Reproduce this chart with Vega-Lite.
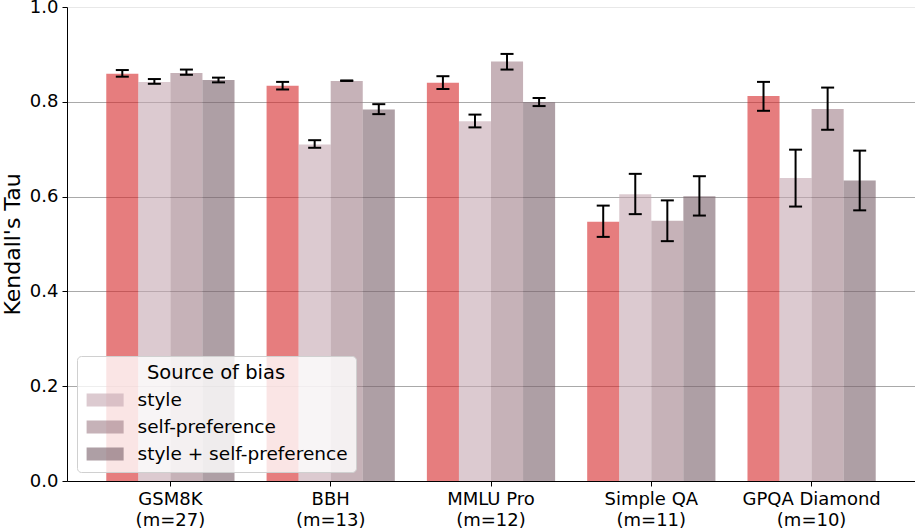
{
  "$schema": "https://vega.github.io/schema/vega-lite/v6.json",
  "width": 848,
  "height": 474,
  "autosize": {"type": "none"},
  "padding": {"left": 67, "top": 7, "right": 0, "bottom": 48},
  "background": "white",
  "config": {
    "font": "DejaVu Sans",
    "view": {"stroke": null},
    "axis": {"labelColor": "black", "titleColor": "black", "domainColor": "black", "tickColor": "black", "labelFontSize": 18, "tickSize": 5}
  },
  "data": {
    "values": [
      {"benchmark": "GSM8K|(m=27)", "source": "baseline", "tau": 0.859, "lo": 0.853, "hi": 0.867},
      {"benchmark": "GSM8K|(m=27)", "source": "style", "tau": 0.842, "lo": 0.838, "hi": 0.848},
      {"benchmark": "GSM8K|(m=27)", "source": "self-preference", "tau": 0.861, "lo": 0.857, "hi": 0.868},
      {"benchmark": "GSM8K|(m=27)", "source": "style + self-preference", "tau": 0.846, "lo": 0.841, "hi": 0.851},
      {"benchmark": "BBH|(m=13)", "source": "baseline", "tau": 0.834, "lo": 0.826, "hi": 0.842},
      {"benchmark": "BBH|(m=13)", "source": "style", "tau": 0.710, "lo": 0.703, "hi": 0.719},
      {"benchmark": "BBH|(m=13)", "source": "self-preference", "tau": 0.844, "lo": 0.844, "hi": 0.845},
      {"benchmark": "BBH|(m=13)", "source": "style + self-preference", "tau": 0.784, "lo": 0.774, "hi": 0.795},
      {"benchmark": "MMLU Pro|(m=12)", "source": "baseline", "tau": 0.840, "lo": 0.827, "hi": 0.854},
      {"benchmark": "MMLU Pro|(m=12)", "source": "style", "tau": 0.759, "lo": 0.746, "hi": 0.773},
      {"benchmark": "MMLU Pro|(m=12)", "source": "self-preference", "tau": 0.885, "lo": 0.868, "hi": 0.901},
      {"benchmark": "MMLU Pro|(m=12)", "source": "style + self-preference", "tau": 0.799, "lo": 0.791, "hi": 0.808},
      {"benchmark": "Simple QA|(m=11)", "source": "baseline", "tau": 0.547, "lo": 0.515, "hi": 0.581},
      {"benchmark": "Simple QA|(m=11)", "source": "style", "tau": 0.605, "lo": 0.563, "hi": 0.648},
      {"benchmark": "Simple QA|(m=11)", "source": "self-preference", "tau": 0.549, "lo": 0.506, "hi": 0.592},
      {"benchmark": "Simple QA|(m=11)", "source": "style + self-preference", "tau": 0.601, "lo": 0.560, "hi": 0.643},
      {"benchmark": "GPQA Diamond|(m=10)", "source": "baseline", "tau": 0.812, "lo": 0.781, "hi": 0.842},
      {"benchmark": "GPQA Diamond|(m=10)", "source": "style", "tau": 0.639, "lo": 0.579, "hi": 0.699},
      {"benchmark": "GPQA Diamond|(m=10)", "source": "self-preference", "tau": 0.785, "lo": 0.741, "hi": 0.830},
      {"benchmark": "GPQA Diamond|(m=10)", "source": "style + self-preference", "tau": 0.634, "lo": 0.571, "hi": 0.697}
    ]
  },
  "encoding": {
    "x": {
      "field": "benchmark", "type": "nominal", "sort": null,
      "scale": {"paddingInner": 0.2, "paddingOuter": 0.245},
      "axis": {"title": null, "labelAngle": 0, "labelExpr": "split(datum.label, '|')", "labelLineHeight": 21, "labelPadding": 4}
    },
    "xOffset": {
      "field": "source", "type": "nominal",
      "scale": {"domain": ["baseline", "style", "self-preference", "style + self-preference"], "paddingInner": 0, "paddingOuter": 0}
    }
  },
  "layer": [
    {
      "mark": {"type": "bar", "opacity": 0.6},
      "encoding": {
        "y": {
          "field": "tau", "type": "quantitative",
          "scale": {"domain": [0, 1], "nice": false},
          "axis": {
            "title": "Kendall's Tau", "titleFontSize": 22, "titleFontWeight": "normal", "titlePadding": 5,
            "values": [0, 0.2, 0.4, 0.6, 0.8, 1.0], "format": ".1f", "labelPadding": 4,
            "grid": true, "gridOpacity": 0.9,
            "gridColor": {"condition": {"test": "datum.value >= 1", "value": "#e6e6e6"}, "value": "#a0a0a0"}
          }
        },
        "color": {
          "field": "source", "type": "nominal",
          "scale": {
            "domain": ["baseline", "style", "self-preference", "style + self-preference"],
            "range": ["#d62728", "#c5a7b1", "#a07f89", "#785f69"]
          },
          "legend": {
            "values": ["style", "self-preference", "style + self-preference"],
            "title": "Source of bias",
            "orient": "none", "legendX": 10, "legendY": 349,
            "titleFontSize": 19.5, "titleFontWeight": "normal", "titleAnchor": "middle", "titleColor": "black", "titlePadding": 3,
            "labelFontSize": 18.5, "labelColor": "black", "labelOffset": 25.5, "labelLimit": 400,
            "symbolType": "M-0.9,-0.5H1.9V0.5H-0.9Z", "symbolSize": 700, "symbolOpacity": 0.6, "symbolStrokeWidth": 0,
            "rowPadding": 4, "padding": 8,
            "fillColor": "rgba(255,255,255,0.8)", "strokeColor": "#d0d0d0", "cornerRadius": 4
          }
        }
      }
    },
    {
      "mark": {"type": "rule", "color": "black", "strokeWidth": 2},
      "encoding": {
        "y": {"field": "lo", "type": "quantitative"},
        "y2": {"field": "hi"}
      }
    },
    {
      "mark": {"type": "tick", "color": "black", "thickness": 2, "size": 13, "opacity": 1},
      "encoding": {"y": {"field": "lo", "type": "quantitative"}}
    },
    {
      "mark": {"type": "tick", "color": "black", "thickness": 2, "size": 13, "opacity": 1},
      "encoding": {"y": {"field": "hi", "type": "quantitative"}}
    }
  ]
}
